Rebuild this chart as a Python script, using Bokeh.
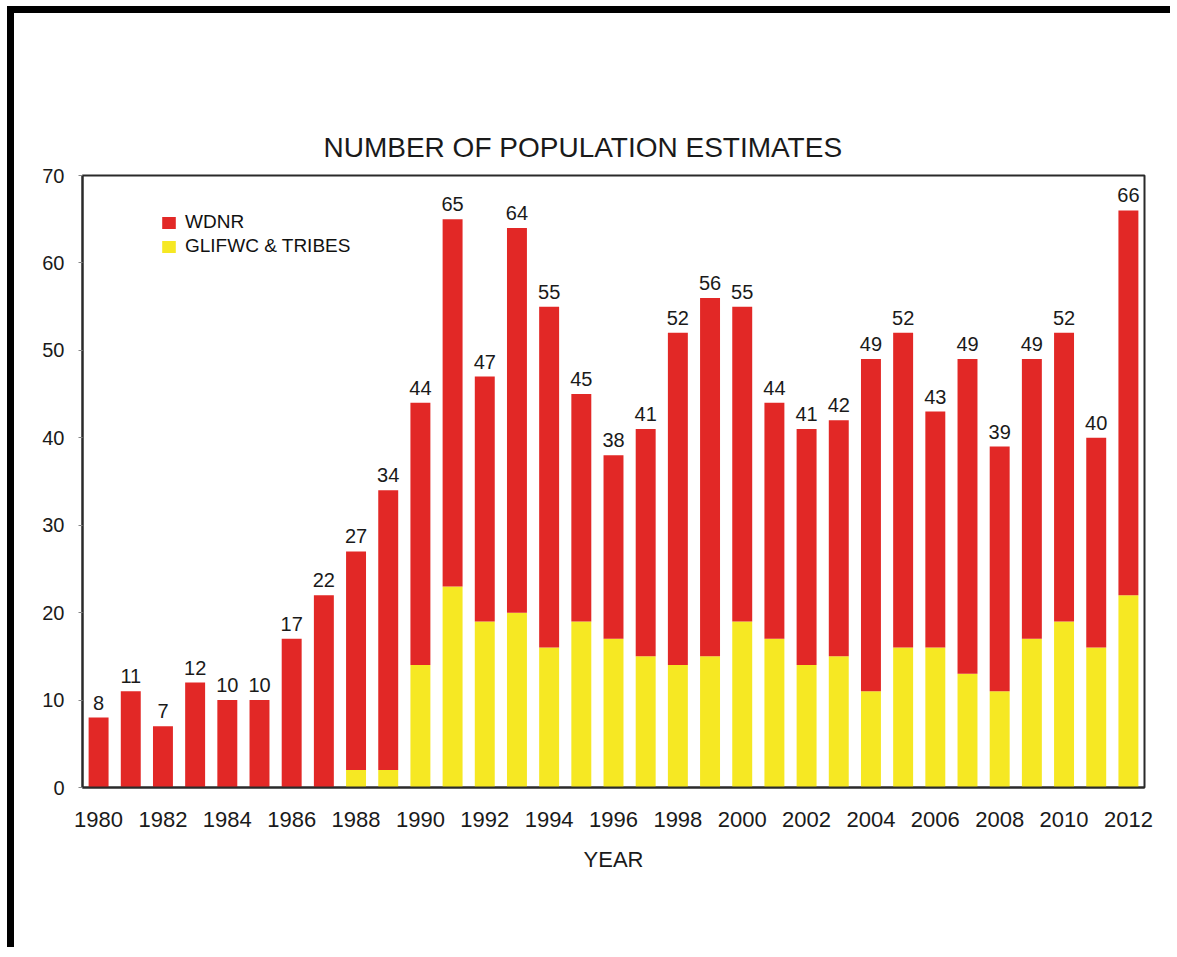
from bokeh.plotting import figure
from bokeh.models import ColumnDataSource, Legend, LegendItem, FixedTicker, Range1d
from bokeh.embed import file_html
from bokeh.resources import INLINE
from bokeh.core.properties import value

years = list(range(1980, 2013))
total = [8, 11, 7, 12, 10, 10, 17, 22, 27, 34, 44, 65, 47, 64, 55, 45, 38, 41,
         52, 56, 55, 44, 41, 42, 49, 52, 43, 49, 39, 49, 52, 40, 66]
glifwc = [0, 0, 0, 0, 0, 0, 0, 0, 2, 2, 14, 23, 19, 20, 16, 19, 17, 15,
          14, 15, 19, 17, 14, 15, 11, 16, 16, 13, 11, 17, 19, 16, 22]
wdnr = [t - g for t, g in zip(total, glifwc)]
year_ticks = list(range(1980, 2013, 2))
y_ticks = [0, 10, 20, 30, 40, 50, 60, 70]

RED = "#E22826"
YELLOW = "#F6E823"
FONT = "Liberation Sans"

src = ColumnDataSource(dict(year=years, total=total, glifwc=glifwc, wdnr=wdnr,
                            label=[str(t) for t in total]))

p = figure(width=1163, height=941, output_backend="svg", toolbar_location=None,
           x_range=Range1d(1979.5, 2012.5), y_range=Range1d(0, 70),
           min_border_left=68, min_border_right=33, min_border_top=162,
           min_border_bottom=167, background_fill_color="white",
           border_fill_color="white")
p.styles = {"border-left": "7px solid black", "border-top": "7px solid black",
            "margin-left": "7px", "margin-top": "6px"}

rs = p.vbar_stack(["glifwc", "wdnr"], x="year", width=0.62, source=src,
                  color=[YELLOW, RED], line_color=None)

p.text(x="year", y="total", text="label", source=src, text_align="center",
       text_baseline="bottom", y_offset=-8, text_font=value(FONT),
       text_font_size="20px", text_color="#1a1a1a")

p.title.text = "NUMBER OF POPULATION ESTIMATES"
p.title.align = "left"
p.title.offset = 241
p.title.standoff = 25
p.title.text_font = FONT
p.title.text_font_size = "28px"
p.title.text_font_style = "normal"
p.title.text_color = "#1a1a1a"

p.xgrid.visible = False
p.ygrid.visible = False
p.outline_line_color = "#2a2a2a"
p.outline_line_width = 2

xa = p.xaxis[0]
xa.ticker = FixedTicker(ticks=year_ticks)
xa.major_tick_out = 0
xa.major_tick_in = 0
xa.minor_tick_out = 0
xa.minor_tick_in = 0
xa.major_label_standoff = 24
xa.major_label_text_font = FONT
xa.major_label_text_font_size = "22px"
xa.major_label_text_color = "#1a1a1a"
xa.axis_line_color = "#2a2a2a"
xa.axis_line_width = 2
xa.axis_label = "YEAR"
xa.axis_label_text_font = FONT
xa.axis_label_text_font_size = "22px"
xa.axis_label_text_font_style = "normal"
xa.axis_label_text_color = "#1a1a1a"
xa.axis_label_standoff = 17

ya = p.yaxis[0]
ya.ticker = FixedTicker(ticks=y_ticks)
ya.major_tick_out = 4
ya.major_tick_in = 0
ya.minor_tick_out = 0
ya.minor_tick_in = 0
ya.major_label_standoff = 14
ya.major_label_text_font = FONT
ya.major_label_text_font_size = "20px"
ya.major_label_text_color = "#1a1a1a"
ya.axis_line_color = "#2a2a2a"
ya.axis_line_width = 2
ya.major_tick_line_color = "#888888"

legend = Legend(items=[LegendItem(label="WDNR", renderers=[rs[1]]),
                       LegendItem(label="GLIFWC & TRIBES", renderers=[rs[0]])],
                location=(78, 530), orientation="vertical",
                label_text_font=FONT, label_text_font_size="19px",
                label_text_color="#111111", glyph_width=17, glyph_height=15,
                label_standoff=8, spacing=2, padding=0, margin=0,
                border_line_color=None, background_fill_alpha=0,
                label_height=20)
p.add_layout(legend, "center")

open("out.html", "w").write(file_html(p, INLINE))
